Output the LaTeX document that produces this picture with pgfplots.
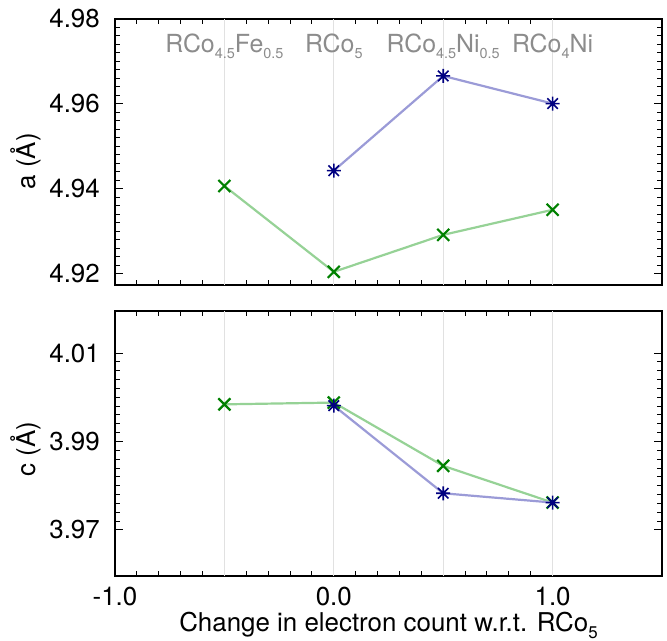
\documentclass[border=0pt]{standalone}
\usepackage{fontspec}
\setmainfont{TeX Gyre Heros}
\usepackage{pgfplots}
\pgfplotsset{compat=1.18}

\definecolor{gline}{RGB}{150,210,150}
\definecolor{bline}{RGB}{155,155,215}
\definecolor{gmark}{RGB}{0,128,0}
\definecolor{bmark}{RGB}{0,0,128}
\definecolor{catgray}{RGB}{140,140,140}
\definecolor{gridgray}{RGB}{225,225,225}

\pgfdeclareplotmark{ast8}{%
  \pgfpathmoveto{\pgfqpoint{-\pgfplotmarksize}{0pt}}\pgfpathlineto{\pgfqpoint{\pgfplotmarksize}{0pt}}%
  \pgfpathmoveto{\pgfqpoint{0pt}{-\pgfplotmarksize}}\pgfpathlineto{\pgfqpoint{0pt}{\pgfplotmarksize}}%
  \pgfpathmoveto{\pgfqpoint{-0.75\pgfplotmarksize}{-0.75\pgfplotmarksize}}\pgfpathlineto{\pgfqpoint{0.75\pgfplotmarksize}{0.75\pgfplotmarksize}}%
  \pgfpathmoveto{\pgfqpoint{-0.75\pgfplotmarksize}{0.75\pgfplotmarksize}}\pgfpathlineto{\pgfqpoint{0.75\pgfplotmarksize}{-0.75\pgfplotmarksize}}%
  \pgfusepathqstroke}

\newcommand{\bigf}{\fontsize{26}{31}\selectfont}
\newcommand{\catf}{\fontsize{25}{30}\selectfont}
\newcommand{\sub}[1]{\raisebox{-0.22em}{\fontsize{14.5}{17}\selectfont #1}}

\pgfplotsset{myax/.style={
  scale only axis, width=547bp,
  xmin=-1, xmax=1.5,
  axis line style={line width=2.5bp},
  every tick/.style={black, line width=1bp},
  major tick length=8bp, minor tick length=5bp,
  tick align=inside,
  xtick={-1,0,1}, minor x tick num=9,
  minor y tick num=9,
  extra x ticks={-0.5,0,0.5,1},
  extra x tick labels={},
  extra x tick style={grid=major, major tick length=0pt},
  major grid style={gridgray, line width=1.2bp},
  ticklabel style={font=\bigf, inner sep=0pt},
  label style={font=\bigf, inner sep=0pt},
  yticklabel shift=15bp,
  xticklabel shift=11bp,
  gser/.style={gline, line width=2.2bp, mark=x, mark size=8.5bp, mark options={gmark, line width=2.2bp}},
  bser/.style={bline, line width=2.2bp, mark=ast8, mark size=7bp, mark options={bmark, line width=1.6bp}},
}}

\begin{document}
\begin{tikzpicture}
\useasboundingbox (-115bp,-356bp) rectangle (552bp,285bp);

\begin{axis}[myax, height=266bp,
  ymin=4.9174, ymax=4.98,
  ytick={4.92,4.94,4.96,4.98},
  yticklabels={4.92,4.94,4.96,4.98},
  xticklabels={},
  ylabel={a (Å)},
  ylabel style={at={(axis description cs:-0.135,0.465)}, anchor=south},
]
\addplot[gser] coordinates {(-0.5,4.9407) (0,4.9205) (0.5,4.9292) (1,4.9351)};
\addplot[bser] coordinates {(0,4.9443) (0.5,4.9666) (1,4.9601)};
\node[catgray, anchor=base, font=\catf, inner sep=0pt] at (axis cs:-0.5,4.972) {RCo\sub{4.5}Fe\sub{0.5}};
\node[catgray, anchor=base, font=\catf, inner sep=0pt] at (axis cs:0,4.972) {RCo\sub{5}};
\node[catgray, anchor=base, font=\catf, inner sep=0pt] at (axis cs:0.5,4.972) {RCo\sub{4.5}Ni\sub{0.5}};
\node[catgray, anchor=base, font=\catf, inner sep=0pt] at (axis cs:1,4.972) {RCo\sub{4}Ni};
\end{axis}

\begin{axis}[myax, height=265bp, at={(0bp,-291bp)}, anchor=south west,
  ymin=3.9596, ymax=4.0195,
  ytick={3.97,3.99,4.01},
  yticklabels={3.97,3.99,4.01},
  xticklabels={-1.0,0.0,1.0},
  ylabel={c (Å)},
  ylabel style={at={(axis description cs:-0.135,0.478)}, anchor=south},
  xlabel={Change in electron count w.r.t. RCo\raisebox{-0.3em}{\fontsize{17}{20}\selectfont 5}},
  xlabel style={at={(axis description cs:0.5,0)}, anchor=base, yshift=-55bp},
]
\addplot[gser] coordinates {(-0.5,3.9984) (0,3.9988) (0.5,3.9845) (1,3.9762)};
\addplot[bser] coordinates {(0,3.9981) (0.5,3.9783) (1,3.9762)};
\end{axis}
\end{tikzpicture}
\end{document}
